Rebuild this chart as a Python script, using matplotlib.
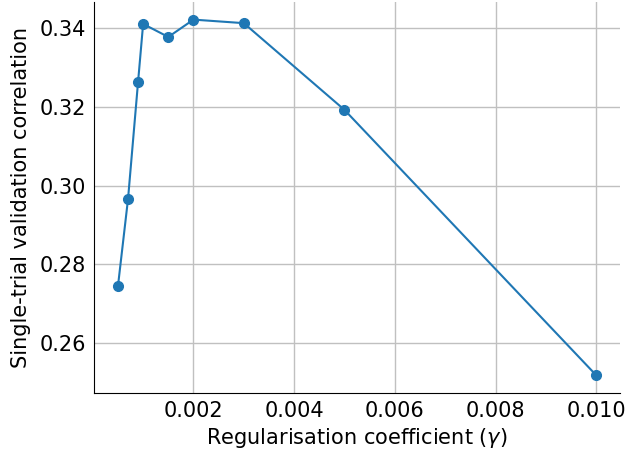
import matplotlib
matplotlib.use("Agg")
import matplotlib.pyplot as plt

# regularisation strengths tried and the resulting validation correlation
gammas = [0.0005, 0.0007, 0.0009, 0.001, 0.0015, 0.002, 0.003, 0.005, 0.01]
corrs = [0.2745, 0.2966, 0.3264, 0.3410, 0.3377, 0.3421, 0.3412, 0.3192, 0.2519]

plt.rcParams['font.size'] = 15

fig, ax = plt.subplots(figsize=(6.27, 4.57), dpi=100)
fig.subplots_adjust(left=0.15, right=0.989, bottom=0.14, top=0.996)

ax.plot(gammas, corrs, marker='o', color='#1f77b4', markersize=7, linewidth=1.5)

ax.grid(True, color='#c0c0c0', linewidth=1)
ax.set_axisbelow(True)
ax.spines['top'].set_visible(False)
ax.spines['right'].set_visible(False)
ax.tick_params(length=0, pad=6)

ax.set_xticks([0.002, 0.004, 0.006, 0.008, 0.010])
ax.set_xticklabels(['0.002', '0.004', '0.006', '0.008', '0.010'])
ax.set_yticks([0.26, 0.28, 0.30, 0.32, 0.34])
ax.set_yticklabels(['0.26', '0.28', '0.30', '0.32', '0.34'])

ax.set_xlabel(r'Regularisation coefficient ($\gamma$)', labelpad=3)
ax.set_ylabel('Single-trial validation correlation', labelpad=6)

fig.savefig('out.png', dpi=100)
